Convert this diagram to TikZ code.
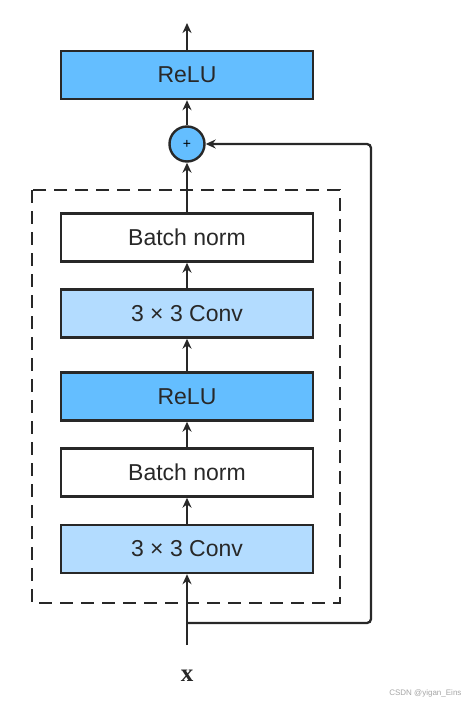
\documentclass[tikz,border=0pt]{standalone}
\usepackage{fontspec}
\setmainfont{Liberation Sans}
\newfontfamily\serifbold{Liberation Serif}
\usetikzlibrary{arrows.meta}
\definecolor{relublue}{RGB}{100,190,255}
\definecolor{convblue}{RGB}{179,220,255}
\definecolor{edge}{RGB}{40,40,40}
\tikzset{
  layerbox/.style={draw=edge, line width=2.4pt, minimum width=252pt, minimum height=48pt,
    inner sep=0pt, font=\fontsize{23}{26}\selectfont, text=edge},
  relubox/.style={layerbox, fill=relublue},
  convbox/.style={layerbox, fill=convblue},
  bnbox/.style={layerbox, fill=white},
  conn/.style={draw=edge, line width=2.3pt, -{Stealth[length=10pt,width=9pt]}},
  skipline/.style={draw=edge, line width=2.3pt, rounded corners=4pt},
  dashbox/.style={draw=edge, line width=2.6pt, dash pattern=on 13pt off 8pt},
}
\begin{document}
\begin{tikzpicture}[x=1pt,y=-1pt]
\useasboundingbox (0,0) rectangle (473,706);
\fill[white] (0,0) rectangle (473,706);
% dashed block
\draw[dashbox] (32,190) rectangle (340,603);
% layers
\node[relubox] (relu1) at (187,75) {ReLU};
\node[bnbox] (bn1) at (187,237.5) {Batch norm};
\node[convbox] (conv1) at (187,313.5) {3 × 3 Conv};
\node[relubox] (relu2) at (187,396.5) {ReLU};
\node[bnbox] (bn2) at (187,472.5) {Batch norm};
\node[convbox] (conv2) at (187,549) {3 × 3 Conv};
\node[circle, draw=edge, line width=2.4pt, fill=relublue, minimum size=35pt, inner sep=0pt,
  font=\fontsize{14}{15}\selectfont] (add) at (187,144) {+};
\coordinate (out) at (187,23);
\coordinate (in) at (187,645);
\coordinate (branch) at (187,623);
\coordinate (rc1) at (371,623);
\coordinate (rc2) at (371,144);
\node[font=\serifbold\bfseries\fontsize{25}{27}\selectfont, text=edge] (xlab) at (187,676) {x};
\node[font=\fontsize{8}{9}\selectfont, text=black!35, anchor=east] (wm) at (465,693) {CSDN @yigan\_Eins};
% connectors
\draw[conn] (relu1.north) -- (out);
\draw[conn] (add.north) -- (relu1.south);
\draw[conn] (bn1.north) -- (add.south);
\draw[conn] (conv1.north) -- (bn1.south);
\draw[conn] (relu2.north) -- (conv1.south);
\draw[conn] (bn2.north) -- (relu2.south);
\draw[conn] (conv2.north) -- (bn2.south);
\draw[conn] (in) -- (conv2.south);
\draw[skipline] (branch) -- (rc1) -- (rc2) -- ([xshift=3pt]add.east);
\draw[conn] ([xshift=12pt]add.east) -- (add.east);
\end{tikzpicture}
\end{document}
